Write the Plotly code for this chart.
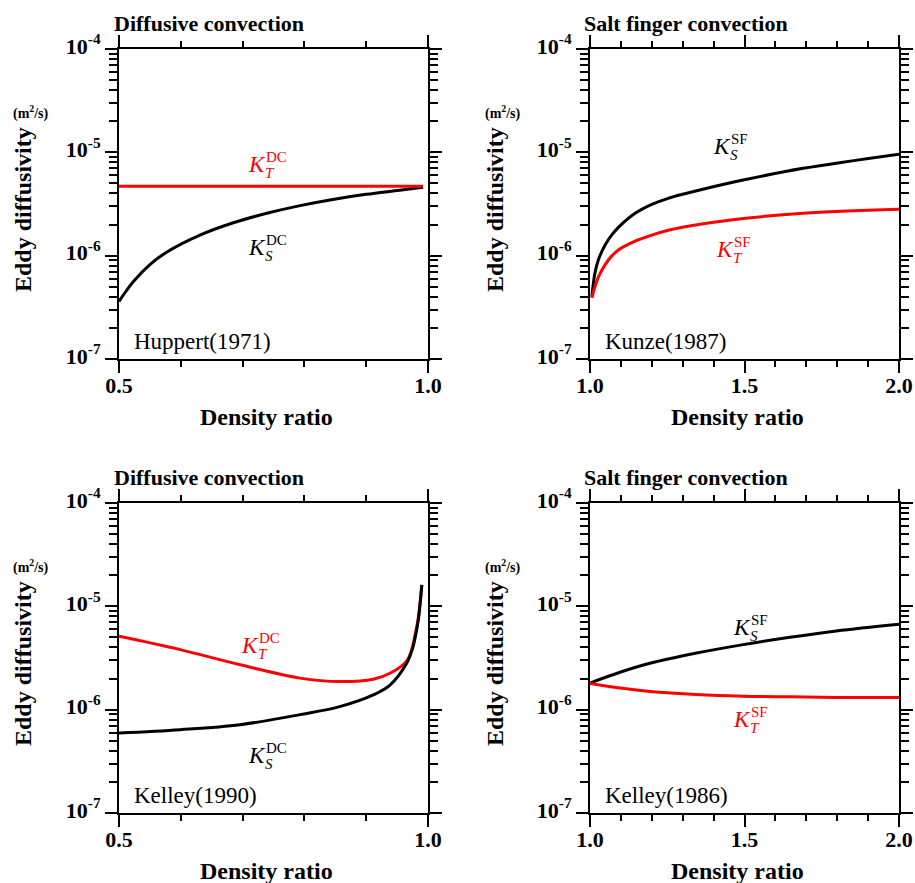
import plotly.graph_objects as go

W, H = 915, 883
FONT = "Liberation Serif, Times New Roman, serif"

# ---------------- data ----------------
# Panel A: Huppert (1971), diffusive convection
hup_x = [0.5, 0.511, 0.523, 0.55, 0.577, 0.631, 0.685, 0.739, 0.793, 0.846, 0.9, 0.954, 0.992]
hup_ks = [3.6e-7, 4.5e-7, 5.6e-7, 8.2e-7, 1.08e-6, 1.58e-6, 2.08e-6, 2.57e-6, 3.05e-6,
          3.5e-6, 3.92e-6, 4.3e-6, 4.6e-6]
hup_kt = [4.69e-6, 4.69e-6, 4.69e-6, 4.69e-6, 4.69e-6, 4.69e-6, 4.69e-6, 4.69e-6, 4.69e-6,
          4.69e-6, 4.69e-6, 4.69e-6, 4.69e-6]

# Panel B: Kunze (1987), salt finger convection
kun_x = [1.006, 1.016, 1.027, 1.049, 1.070, 1.092, 1.146, 1.200, 1.253, 1.307, 1.372, 1.496, 1.69, 2.0]
kun_ks = [4.0e-7, 6.8e-7, 9.1e-7, 1.27e-6, 1.58e-6, 1.88e-6, 2.57e-6, 3.14e-6, 3.59e-6,
          3.98e-6, 4.45e-6, 5.4e-6, 7.0e-6, 9.6e-6]
kun_kt = [3.9e-7, 5.0e-7, 6.2e-7, 8.2e-7, 9.9e-7, 1.135e-6, 1.38e-6, 1.58e-6, 1.76e-6,
          1.905e-6, 2.05e-6, 2.29e-6, 2.57e-6, 2.81e-6]

# Panel C: Kelley (1990), diffusive convection
kel90_x = [0.5, 0.599, 0.696, 0.793, 0.857, 0.9115, 0.9385, 0.9655, 0.975, 0.979, 0.9845, 0.990]
kel90_kt = [5.13e-6, 3.81e-6, 2.72e-6, 2.02e-6, 1.87e-6, 1.97e-6, 2.25e-6, 2.95e-6, 4.1e-6,
            5.28e-6, 7.9e-6, 1.61e-5]
kel90_ks = [5.94e-7, 6.4e-7, 7.16e-7, 8.95e-7, 1.07e-6, 1.39e-6, 1.73e-6, 2.81e-6, 3.9e-6,
            4.9e-6, 7.5e-6, 1.61e-5]

# Panel D: Kelley (1986), salt finger convection
kel86_x = [1.0, 1.097, 1.194, 1.345, 1.496, 1.647, 1.797, 2.0]
kel86_ks = [1.81e-6, 2.30e-6, 2.81e-6, 3.53e-6, 4.26e-6, 5.01e-6, 5.77e-6, 6.7e-6]
kel86_kt = [1.79e-6, 1.62e-6, 1.50e-6, 1.40e-6, 1.35e-6, 1.33e-6, 1.315e-6, 1.315e-6]

# axis ticks
y_major = [1e-7, 1e-6, 1e-5, 1e-4]
y_major_text = ["10<sup>-7</sup>", "10<sup>-6</sup>", "10<sup>-5</sup>", "10<sup>-4</sup>"]
y_minor = [k * 10.0 ** e for e in (-7, -6, -5) for k in range(2, 10)]
xdc_major = [0.5, 1.0]
xdc_major_text = ["0.5", "1.0"]
xdc_minor = [0.6, 0.7, 0.8, 0.9]
xsf_major = [1.0, 1.5, 2.0]
xsf_major_text = ["1.0", "1.5", "2.0"]
xsf_minor = [1.1, 1.2, 1.3, 1.4, 1.6, 1.7, 1.8, 1.9]

titles = ["Diffusive convection", "Salt finger convection",
          "Diffusive convection", "Salt finger convection"]
sources = ["Huppert(1971)", "Kunze(1987)", "Kelley(1990)", "Kelley(1986)"]

RED = "#ff0000"
BLACK = "#000000"


def fx(x):
    return x / W


def fy(y):
    return 1 - y / H


# panel pixel boxes: (left, right, top, bottom)
boxes = [(119, 428, 49, 359), (590, 899, 49, 359), (119, 428, 503, 813), (590, 899, 503, 813)]

fig = go.Figure()

series = [
    (1, hup_x, hup_ks, BLACK), (1, hup_x, hup_kt, RED),
    (2, kun_x, kun_ks, BLACK), (2, kun_x, kun_kt, RED),
    (3, kel90_x, kel90_kt, RED), (3, kel90_x, kel90_ks, BLACK),
    (4, kel86_x, kel86_ks, BLACK), (4, kel86_x, kel86_kt, RED),
]
for i, xs, ys, col in series:
    sfx = "" if i == 1 else str(i)
    fig.add_trace(go.Scatter(x=xs, y=ys, mode="lines", line=dict(color=col, width=3, shape="spline", smoothing=1.0),
                             xaxis="x" + sfx, yaxis="y" + sfx, hoverinfo="skip"))

layout = dict(width=W, height=H, margin=dict(l=0, r=0, t=0, b=0, autoexpand=False), showlegend=False,
              paper_bgcolor="white", plot_bgcolor="white", font=dict(family=FONT, color="black"))

for i, (l, r, t, b) in enumerate(boxes):
    sfx = "" if i == 0 else str(i + 1)
    dc = i in (0, 2)
    layout["xaxis" + sfx] = dict(
        domain=[fx(l), fx(r)], anchor="y" + sfx, automargin=False,
        range=[0.5, 1.0] if dc else [1.0, 2.0],
        tickvals=xdc_major if dc else xsf_major,
        ticktext=xdc_major_text if dc else xsf_major_text,
        ticks="outside", ticklen=12, tickwidth=2, tickcolor="black",
        minor=dict(tickvals=xdc_minor if dc else xsf_minor, ticks="outside", ticklen=6,
                   tickwidth=2, tickcolor="black", showgrid=False),
        showline=True, linewidth=2, linecolor="black", mirror="allticks",
        showgrid=False, zeroline=False, ticklabelstandoff=-6,
        tickfont=dict(family=FONT, size=22, weight="bold", color="black"),
    )
    layout["yaxis" + sfx] = dict(
        domain=[fy(b), fy(t)], anchor="x" + sfx, type="log", range=[-7, -4], automargin=False,
        tickvals=y_major, ticktext=y_major_text,
        ticks="outside", ticklen=12, tickwidth=2, tickcolor="black",
        minor=dict(tickvals=y_minor, ticks="outside", ticklen=8, tickwidth=2,
                   tickcolor="black", showgrid=False),
        showline=True, linewidth=2, linecolor="black", mirror="allticks",
        showgrid=False, zeroline=False, ticklabelshift=-3,
        tickfont=dict(family=FONT, size=22, weight="bold", color="black"),
    )

ann = []


def add(x, y, text, size, xa="left", ya="middle", bold=False, color="black", angle=0):
    ann.append(dict(x=fx(x), y=fy(y), xref="paper", yref="paper", text=text, showarrow=False,
                    xanchor=xa, yanchor=ya, textangle=angle, borderpad=0,
                    font=dict(family=FONT, size=size, color=color,
                              weight="bold" if bold else "normal")))


dx_panel = [0, 471, 0, 471]
dy_panel = [0, 0, 454, 454]
for i in range(4):
    ox, oy = dx_panel[i], dy_panel[i]
    add(113 + ox - (0 if i % 2 == 0 else 1), 23 + oy, titles[i], 22, bold=True)
    add(23 + ox + (0 if i % 2 == 0 else 1), 210 + oy, "Eddy diffusivity", 24, xa="center", bold=True, angle=-90)
    add(31 + ox + (0 if i % 2 == 0 else 1), 112 + oy, "(m<sup>2</sup>/s)", 14, xa="center", bold=True)
    add(266 + ox, 417 + oy, "Density ratio", 24, xa="center", bold=True)
    add(133 + ox, 341 + oy, sources[i], 23)

# K labels: (K left x, K cap centre y, subscript, superscript, colour)
klabels = [
    (247, 164.5, "T", "DC", RED), (247, 247.5, "S", "DC", BLACK),
    (712, 146.5, "S", "SF", BLACK), (715, 249.5, "T", "SF", RED),
    (240, 645.5, "T", "DC", RED), (247, 755.5, "S", "DC", BLACK),
    (732, 627.5, "S", "SF", BLACK), (732, 719.5, "T", "SF", RED),
]
for kx, ky, sub, sup, col in klabels:
    add(kx, ky, "<i>K</i>", 23, color=col)
    add(kx + 16.5, ky + 8.5, "<i>" + sub + "</i>", 15, color=col)
    add(kx + 18, ky - 7.5, sup, 15, color=col)

layout["annotations"] = ann
fig.update_layout(**layout)

fig.write_html("out.html", config={"displayModeBar": False},
               post_script="document.body.style.margin='0';")
